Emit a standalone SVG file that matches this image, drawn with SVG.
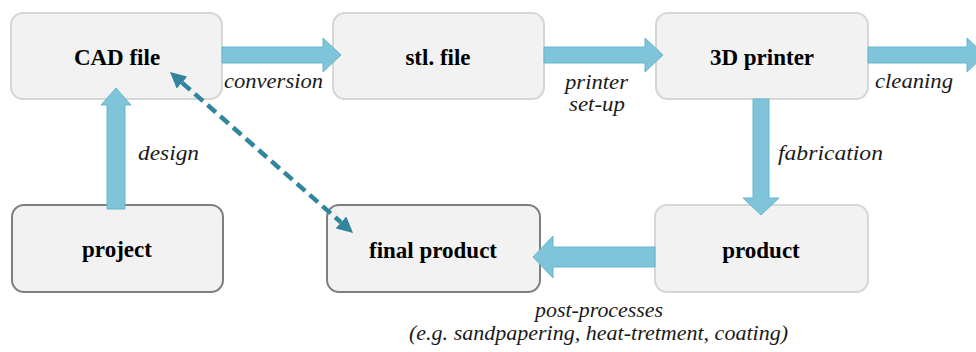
<svg xmlns="http://www.w3.org/2000/svg" width="976" height="352" viewBox="0 0 976 352">
<style>
.box{fill:#f2f2f2;stroke-width:2}
.lt{stroke:#d6d6d6}
.dk{stroke:#7f7f7f}
.nl{font-family:'Liberation Serif','DejaVu Serif',serif;font-weight:bold;font-size:23px;fill:#000;text-anchor:middle}
.el{font-family:'Liberation Serif','DejaVu Serif',serif;font-style:italic;font-size:21px;fill:#1a1a1a}
.blk{fill:#7fc4d8;stroke:#69b6cc;stroke-width:1}
.dash{stroke:#31859c;stroke-width:4.5;stroke-dasharray:11 6;fill:none}
</style>
<defs>
<marker id="dh" markerUnits="userSpaceOnUse" markerWidth="16" markerHeight="16" refX="0" refY="8" orient="auto-start-reverse" viewBox="0 0 16 16">
<path d="M0,0 L16,8 L0,16 z" fill="#31859c"/>
</marker>
</defs>
<rect width="976" height="352" fill="#fff"/>
<g id="cad"><rect class="box lt" x="11" y="13" width="211" height="86" rx="12"/><text class="nl" x="117" y="65">CAD file</text></g>
<g id="stl"><rect class="box lt" x="333" y="13" width="211" height="86" rx="12"/><text class="nl" x="438" y="65">stl. file</text></g>
<g id="printer"><rect class="box lt" x="656" y="13" width="212" height="86" rx="12"/><text class="nl" x="762" y="65">3D printer</text></g>
<g id="project"><rect class="box dk" x="12" y="205" width="211" height="87" rx="12"/><text class="nl" x="117" y="257">project</text></g>
<g id="final"><rect class="box dk" x="327" y="205" width="213" height="87" rx="12"/><text class="nl" x="433" y="258">final product</text></g>
<g id="product"><rect class="box lt" x="655" y="205" width="213" height="87" rx="12"/><text class="nl" x="761" y="258">product</text></g>
<g id="connectors">
<polygon class="blk" points="222,47 323,47 323,38 341,55 323,72 323,63 222,63"/>
<polygon class="blk" points="544,47 645,47 645,38 663,55 645,72 645,63 544,63"/>
<polygon class="blk" points="868,47 967,47 967,38 985,55 967,72 967,63 868,63"/>
<polygon class="blk" points="107,209 107,105 101,105 116,88 131,105 125,105 125,209"/>
<polygon class="blk" points="753,99 769,99 769,198 779,198 761,215 743,198 753,198"/>
<polygon class="blk" points="655,247 553,247 553,236 533,257 553,278 553,267 655,267"/>
<line class="dash" x1="182" y1="82.6" x2="341" y2="222.4" marker-start="url(#dh)" marker-end="url(#dh)"/>
<text class="el" x="224" y="88" textLength="99" lengthAdjust="spacingAndGlyphs">conversion</text>
<text class="el" x="565" y="89" textLength="63" lengthAdjust="spacingAndGlyphs">printer</text>
<text class="el" x="569" y="111" textLength="56" lengthAdjust="spacingAndGlyphs">set-up</text>
<text class="el" x="875" y="88" textLength="78" lengthAdjust="spacingAndGlyphs">cleaning</text>
<text class="el" x="778" y="160" textLength="105" lengthAdjust="spacingAndGlyphs">fabrication</text>
<text class="el" x="138" y="160" textLength="61" lengthAdjust="spacingAndGlyphs">design</text>
<text class="el" x="535" y="317" textLength="128" lengthAdjust="spacingAndGlyphs">post-processes</text>
<text class="el" x="409" y="340" textLength="379" lengthAdjust="spacingAndGlyphs">(e.g. sandpapering, heat-tretment, coating)</text>
</g>
</svg>
